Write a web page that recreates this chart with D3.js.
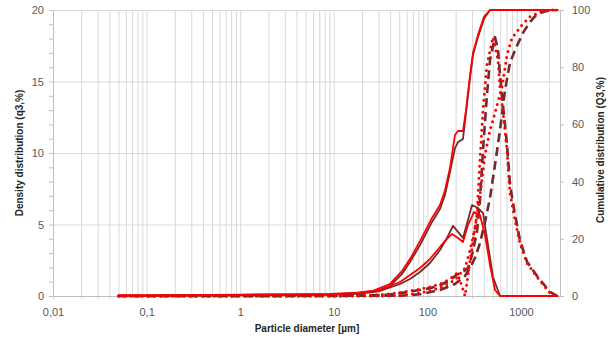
<!DOCTYPE html>
<html><head><meta charset="utf-8">
<script src="https://cdn.jsdelivr.net/npm/d3@7"></script>
<style>
html,body{margin:0;padding:0;background:#fff;}
svg{display:block;font-family:"Liberation Sans",Arial,sans-serif;}
</style></head>
<body><svg id="c" width="614" height="340"></svg>
<script>
// ---- data ----
const xTickLabels = ["0,01","0,1","1","10","100","1000"];
const xTickValues = [0.01,0.1,1,10,100,1000];
const yLeftTicks = [0,5,10,15,20];
const yRightTicks = [0,20,40,60,80,100];

const densAMaroonX = [0.05,0.1,0.5,1,2,5,9.1,17.7,31.2,51,65.2,83.4,106.6,136.3,162,187.7,212.3,240,271.5,299.6,347,393,444,502,597,1000,2000,2500];
const densAMaroonY = [0.05,0.05,0.06,0.08,0.1,0.1,0.1,0.15,0.35,0.84,1.19,1.68,2.31,3.22,4.06,4.9,4.48,4.06,5.31,6.36,6.15,5.8,3.57,1.33,0,0,0,0];

const densARedX = [0.05,0.1,0.5,1,2,5,9.1,17.7,31.2,51,83.4,106.6,136.3,162,183.2,212.3,240,271.5,314.8,364.8,412.5,466.6,527.5,597,1000,2000,2500];
const densARedY = [0.05,0.05,0.07,0.1,0.11,0.12,0.12,0.2,0.42,0.98,1.96,2.59,3.43,3.99,4.34,4.06,3.78,4.97,5.87,5.66,4.27,2.17,0.42,0,0,0,0];

const cumAX = [0.05,1,9.1,17.7,26.2,39.8,53.5,65.2,83.4,112,136.3,154.2,174.4,197.2,212.3,240,258.5,285.2,307.1,347.2,402.5,466.6,2500];
const cumAMaroonY = [0,0.2,0.5,1.0,1.4,3.5,7.7,11.9,17.8,25.9,30.4,35.3,43.4,51.7,53.8,54.9,64,76.2,84.3,90.6,96.9,100,100];
const cumARedY = [0,0.3,0.7,1.2,1.8,4.2,8.7,12.9,19.2,27.3,31.8,37,44.8,56.3,57.7,57.7,65,77,85,91.3,97.6,100,100];

const densBRedX = [0.05,1,10,20,24.4,39.8,65.2,106.6,136.3,174.4,207.1,223,252.2,285.2,338.8,364.8,392.7,433.4,502.1,568,596.6,640,708.7,763,863,975.7,1159,1483,2041,2424];
const densBRedY = [0,0,0,0.02,0.05,0.14,0.35,0.63,0.84,1.19,1.6,1.1,0,2.4,5.7,9.5,13,16.2,18.1,16.5,14.6,13,10.2,7.2,5.3,3.7,2.3,1.33,0.2,0];

const densBMaroonX = [0.05,1,10,24.4,39.8,65.2,106.6,136.3,174.4,207.1,240,271.5,299.6,338.8,364.8,392.7,433.4,466.6,527.5,568,596.6,640,708.7,763,863,975.7,1159,1483,2041,2424];
const densBMaroonY = [0,0,0,0.05,0.1,0.3,0.55,0.75,1.1,1.5,1.68,1.96,2.87,4.48,6.7,10.2,14.1,16.5,18.1,17.2,15.5,13.4,10.6,7.8,5.7,3.9,2.4,1.4,0.28,0];

const cumBRedX = [0.05,30,51,83.4,136.3,197.2,252.2,285.2,322.4,364.8,412.5,466.6,502.1,626.8,708.7,801.5,1025,1248,1596,2041,2500];
const cumBRedY = [0,0,0.2,1,2.8,5.6,9.8,16,23.8,35.3,49.3,58,61.5,73,84.3,90.2,94.8,97.6,99.3,100,100];

const cumBMaroonX = [0.05,51,83.4,136.3,197.2,252.2,285.2,322.4,364.8,412.5,466.6,527.5,596.6,674.8,763,863,1050,1248,1483,1896,2424];
const cumBMaroonY = [0,0.1,0.6,2.1,4.2,7,9.8,13.3,18.5,25.9,34.3,45.8,58,72,81.5,86,92,95.8,98.6,99.7,100];

// ---- layout ----
const L = 53, R = 560, T = 10, B = 296;
const maroon = "#74292b", red = "#ff0000";
const svg = d3.select("#c");
const x = d3.scaleLog().domain([0.01, 2611]).range([L, R]);
const yL = d3.scaleLinear().domain([0, 20]).range([B, T]);
const yR = d3.scaleLinear().domain([0, 100]).range([B, T]);

// minor grid values
const minorX = [];
for (let e = -2; e <= 3; e++) for (let m = 1; m <= 9; m++) {
  const v = m * Math.pow(10, e);
  if (v <= 2611) minorX.push(v);
}

// vertical gridlines (with small tick extension below axis)
svg.append("g").attr("transform", `translate(0,${B})`)
  .call(d3.axisBottom(x).tickValues(minorX).tickSize(-(B - T) - 3).tickFormat(""))
  .call(g => g.select(".domain").remove())
  .call(g => g.selectAll(".tick line").attr("stroke", "#d9d9d9").attr("y1", 3).attr("y2", -(B - T)));

// horizontal gridlines
svg.append("g").attr("transform", `translate(${L},0)`)
  .call(d3.axisLeft(yL).tickValues(yLeftTicks).tickSize(-(R - L)).tickFormat(""))
  .call(g => g.select(".domain").remove())
  .call(g => g.selectAll(".tick line").attr("stroke", "#d9d9d9"));

// left axis minor ticks
svg.append("g").attr("transform", `translate(${L},0)`)
  .call(d3.axisLeft(yL).ticks(20).tickSize(4).tickFormat(""))
  .call(g => g.select(".domain").attr("stroke", "#bfbfbf"))
  .call(g => g.selectAll(".tick line").attr("stroke", "#bfbfbf"));
// left labels
svg.append("g").attr("transform", `translate(${L},0)`)
  .call(d3.axisLeft(yL).tickValues(yLeftTicks).tickSize(0).tickPadding(9))
  .call(g => g.select(".domain").remove())
  .call(g => g.selectAll("text").attr("fill", "#595959").style("font-size", "11px").style("font-family", "Liberation Sans, Arial, sans-serif"));

// right axis
svg.append("g").attr("transform", `translate(${R},0)`)
  .call(d3.axisRight(yR).tickValues(yRightTicks).tickSize(4).tickPadding(8))
  .call(g => g.select(".domain").attr("stroke", "#bfbfbf"))
  .call(g => g.selectAll(".tick line").attr("stroke", "#bfbfbf"))
  .call(g => g.selectAll("text").attr("fill", "#595959").style("font-size", "11px").style("font-family", "Liberation Sans, Arial, sans-serif"));

// bottom axis
svg.append("g").attr("transform", `translate(0,${B})`)
  .call(d3.axisBottom(x).tickValues(xTickValues).tickSize(0).tickPadding(12)
    .tickFormat((d, i) => xTickLabels[i]))
  .call(g => g.select(".domain").attr("stroke", "#bfbfbf"))
  .call(g => g.selectAll("text").attr("fill", "#595959").style("font-size", "11px").style("font-family", "Liberation Sans, Arial, sans-serif"));

// ---- series ----
const lineL = d3.line().x(d => x(d[0])).y(d => yL(d[1]));
const lineR = d3.line().x(d => x(d[0])).y(d => yR(d[1]));
const zip = (a, b) => a.map((v, i) => [v, b[i]]);

const plot = svg.append("g").attr("fill", "none").attr("stroke-linejoin", "round");
function draw(gen, xs, ys, color, w, dash, cap) {
  const p = plot.append("path").attr("d", gen(zip(xs, ys)))
    .attr("stroke", color).attr("stroke-width", w);
  if (dash) p.attr("stroke-dasharray", dash);
  if (cap) p.attr("stroke-linecap", cap);
}
// sample B (dashed / dotted)
draw(lineL, densBMaroonX, densBMaroonY, maroon, 2.6, "9,5", "butt");
draw(lineR, cumBMaroonX, cumBMaroonY, maroon, 2.6, "9,5", "butt");
draw(lineL, densBRedX, densBRedY, red, 3, "0,6", "round");
draw(lineR, cumBRedX, cumBRedY, red, 3, "0,6", "round");
// sample A (solid)
draw(lineL, densAMaroonX, densAMaroonY, maroon, 1.8);
draw(lineR, cumAX, cumAMaroonY, maroon, 1.8);
draw(lineL, densARedX, densARedY, red, 1.8);
draw(lineR, cumAX, cumARedY, red, 1.8);

// ---- titles ----
svg.append("text").attr("x", 307).attr("y", 332).attr("text-anchor", "middle")
  .style("font-size", "10px").style("font-weight", "bold").attr("fill", "#262626")
  .text("Particle diameter [µm]");
svg.append("text").attr("transform", "translate(23,153) rotate(-90)").attr("text-anchor", "middle")
  .style("font-size", "10px").style("font-weight", "bold").attr("fill", "#262626")
  .text("Density distribution (q3,%)");
svg.append("text").attr("transform", "translate(604,150) rotate(-90)").attr("text-anchor", "middle")
  .style("font-size", "10px").style("font-weight", "bold").attr("fill", "#262626")
  .text("Cumulative distribution (Q3,%)");
</script></body></html>
